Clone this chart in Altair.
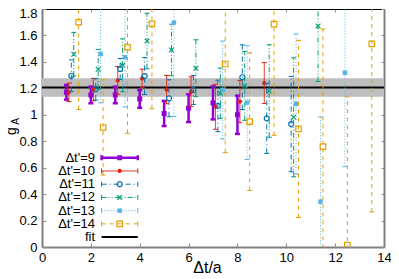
import altair as alt
import pandas as pd

# ---------------- data ----------------
dt_9 = [1, 2, 3, 4, 5, 6, 7, 8]
gA_9 = [1.17, 1.15, 1.15, 1.12, 1.01, 1.05, 1.09, 1.00]
err_9 = [0.055, 0.063, 0.063, 0.067, 0.095, 0.105, 0.125, 0.145]

dt_10 = [1, 2, 3, 4, 5, 6, 7, 8, 9]
gA_10 = [1.17, 1.19, 1.26, 1.275, 1.19, 1.175, 1.06, 1.10, 1.24]
err_10 = [0.07, 0.085, 0.105, 0.07, 0.107, 0.112, 0.17, 0.16, 0.155]

dt_11 = [1, 2, 3, 4, 5, 6, 7, 8, 9, 10]
gA_11 = [1.295, 1.193, 1.346, 1.293, 1.125, 1.188, 1.067, 1.284, 0.973, 0.93]
err_11 = [0.12, 0.082, 0.08, 0.14, 0.14, 0.11, 0.195, 0.245, 0.265, 0.36]

dt_12 = [1, 2, 3, 4, 5, 6, 7, 8, 9, 10, 11]
gA_12 = [1.458, 1.344, 1.374, 1.558, 1.49, 1.352, 1.163, 1.218, 1.18, 0.981, 1.672]
err_12 = [0.165, 0.15, 0.2, 0.21, 0.195, 0.215, 0.19, 0.26, 0.35, 0.45, 0.42]

dt_13 = [2, 3, 5, 7, 8, 10, 11, 12]
gA_13 = [1.46, 1.435, 1.697, 1.188, 1.092, 1.082, 0.343, 1.318]
err_13 = [0.37, 0.375, 0.71, 0.37, 0.43, 0.53, 0.64, 0.71]

dt_14 = [1, 2, 3, 4, 7, 8, 9, 10, 11, 12, 13]
gA_14 = [1.70, 0.904, 1.51, 1.687, 1.384, 0.948, 1.685, 0.893, 0.759, 0.015, 1.536]
err_14 = [0.66, 0.36, 0.65, 0.64, 0.67, 0.52, 0.84, 0.67, 0.89, 1.12, 1.27]

fit_value = 1.207
fit_err = 0.07
fit_range = [0, 14]

series_labels = ["Δt'=9", "Δt'=10", "Δt'=11", "Δt'=12", "Δt'=13", "Δt'=14"]
x_ticks = [0, 2, 4, 6, 8, 10, 12, 14]
y_ticks = [0, 0.2, 0.4, 0.6, 0.8, 1, 1.2, 1.4, 1.6, 1.8]

series_data = [
    (dt_9, gA_9, err_9),
    (dt_10, gA_10, err_10),
    (dt_11, gA_11, err_11),
    (dt_12, gA_12, err_12),
    (dt_13, gA_13, err_13),
    (dt_14, gA_14, err_14),
]

# ---------------- styles ----------------
FONT = "Liberation Sans"
W, H = 342, 238
styles = [
    dict(color="#9400d3", width=2.5, dash=[1, 0], shape="square", filled=True, size=25, off=0.0),
    dict(color="#e51e10", width=1, dash=[1, 0], shape="circle", filled=True, size=18, off=0.1),
    dict(color="#0072b2", width=1, dash=[5, 3, 1, 3], shape="circle", filled=False, size=25, off=0.2),
    dict(color="#009e73", width=1, dash=[5, 2, 1, 2, 1, 2], shape="M-1,-1L1,1M-1,1L1,-1", filled=False, size=22, off=0.3),
    dict(color="#56b4e9", width=1, dash=[1, 2], shape="square", filled=True, size=20, off=0.4),
    dict(color="#e69f00", width=1, dash=[4, 4], shape="square", filled=False, size=30, off=0.5),
]
HCAP = "M-1,0L1,0"
VCAP = "M0,-1L0,1"

xs = alt.Scale(domain=[0, 14], nice=False, zero=False)
ys = alt.Scale(domain=[0, 1.8], nice=False, zero=False)

main_x_axis = alt.Axis(orient="top", offset=-H, values=x_ticks, format="d", tickSize=4,
                       tickColor="#909090", domainColor="#808080", domainWidth=2,
                       labelBaseline="top", labelPadding=-8, labelFontSize=13, labelFont=FONT,
                       labelColor="black", labelFlush=False, labelOverlap=False, grid=False,
                       title="Δt/a", titleFont=FONT, titleFontSize=16, titleFontWeight="normal",
                       titleColor="black", titleX=165, titleY=25, titleBaseline="alphabetic",
                       titleAlign="center", titleAngle=0)
main_y_axis = alt.Axis(orient="right", offset=-W, values=y_ticks, format=".1~f", tickSize=4,
                       tickColor="#909090", domainColor="#808080", domainWidth=2,
                       labelAlign="right", labelBaseline="middle", labelPadding=-9, labelFontSize=13,
                       labelOffset={"condition": {"test": "datum.value > 1.79", "value": 4}, "value": 0},
                       labelFont=FONT, labelColor="black", labelFlush=False, labelOverlap=False,
                       grid=False, title=None)
mirror_x_axis = alt.Axis(orient="bottom", offset=-H, values=x_ticks, labels=False, tickSize=3,
                         tickColor="#909090", domainColor="black", domainWidth=1, grid=False, title=None)
mirror_y_axis = alt.Axis(orient="left", offset=-W, values=y_ticks, labels=False, tickSize=3,
                         tickColor="#909090", domainColor="#808080", domainWidth=2, grid=False, title=None)

layers = []

fit_df = pd.DataFrame({"x0": [fit_range[0]], "x1": [fit_range[1]], "g": [fit_value],
                       "lo": [fit_value - fit_err], "hi": [fit_value + fit_err]})
layers.append(alt.Chart(fit_df).mark_rect(color="#bebebe").encode(
    x=alt.X("x0:Q", scale=xs, axis=main_x_axis), x2="x1:Q",
    y=alt.Y("lo:Q", scale=ys, axis=main_y_axis), y2="hi:Q"))
layers.append(alt.Chart(fit_df).mark_rule(color="black", strokeWidth=2).encode(
    x=alt.X("x0:Q", scale=xs, axis=mirror_x_axis), x2="x1:Q",
    y=alt.Y("g:Q", scale=ys, axis=mirror_y_axis)))

for (dt, g, e), st in zip(series_data, styles):
    df = pd.DataFrame({"x": [d + st["off"] for d in dt], "g": g,
                       "lo": [a - b for a, b in zip(g, e)], "hi": [a + b for a, b in zip(g, e)]})
    caps = pd.concat([pd.DataFrame({"x": df["x"], "y": df["lo"]}),
                      pd.DataFrame({"x": df["x"], "y": df["hi"]})])
    layers.append(alt.Chart(df).mark_rule(color=st["color"], strokeWidth=st["width"],
                                          strokeDash=st["dash"], clip=True).encode(
        x=alt.X("x:Q", scale=xs, axis=None), y=alt.Y("lo:Q", scale=ys, axis=None), y2="hi:Q"))
    layers.append(alt.Chart(caps).mark_point(shape=HCAP, size=25, filled=False, color=st["color"],
                                             strokeWidth=st["width"], opacity=1, clip=True).encode(
        x=alt.X("x:Q", scale=xs, axis=None), y=alt.Y("y:Q", scale=ys, axis=None)))
    layers.append(alt.Chart(df).mark_point(shape=st["shape"], size=st["size"], filled=st["filled"],
                                           color=st["color"], strokeWidth=1.2, opacity=1, clip=True).encode(
        x=alt.X("x:Q", scale=xs, axis=None), y=alt.Y("g:Q", scale=ys, axis=None)))

# ---------------- key (drawn inside the plot, bottom left) ----------------
key_top, key_step = 0.675, 0.1
key_x0, key_x1, key_xm, key_xt = 2.44, 3.92, 3.18, 2.17
for i, (lab, st) in enumerate(zip(series_labels, styles)):
    ky = key_top - key_step * i
    kd = pd.DataFrame({"x0": [key_x0], "x1": [key_x1], "xm": [key_xm], "xt": [key_xt], "y": [ky], "t": [lab]})
    kc = pd.DataFrame({"x": [key_x0, key_x1], "y": [ky, ky]})
    layers.append(alt.Chart(kd).mark_rule(color=st["color"], strokeWidth=st["width"], strokeDash=st["dash"]).encode(
        x=alt.X("x0:Q", scale=xs, axis=None), x2="x1:Q", y=alt.Y("y:Q", scale=ys, axis=None)))
    layers.append(alt.Chart(kc).mark_point(shape=VCAP, size=25, filled=False, color=st["color"],
                                           strokeWidth=st["width"], opacity=1).encode(
        x=alt.X("x:Q", scale=xs, axis=None), y=alt.Y("y:Q", scale=ys, axis=None)))
    layers.append(alt.Chart(kd).mark_point(shape=st["shape"], size=st["size"], filled=st["filled"],
                                           color=st["color"], strokeWidth=1.2, opacity=1).encode(
        x=alt.X("xm:Q", scale=xs, axis=None), y=alt.Y("y:Q", scale=ys, axis=None)))
    layers.append(alt.Chart(kd).mark_text(align="right", baseline="middle", font=FONT, fontSize=13,
                                          color="black").encode(
        x=alt.X("xt:Q", scale=xs, axis=None), y=alt.Y("y:Q", scale=ys, axis=None), text="t:N"))

kf = pd.DataFrame({"x0": [key_x0], "x1": [key_x1], "xt": [key_xt], "y": [key_top - key_step * 6], "t": ["fit"]})
layers.append(alt.Chart(kf).mark_rule(color="black", strokeWidth=2).encode(
    x=alt.X("x0:Q", scale=xs, axis=None), x2="x1:Q", y=alt.Y("y:Q", scale=ys, axis=None)))
layers.append(alt.Chart(kf).mark_text(align="right", baseline="middle", font=FONT, fontSize=13,
                                      color="black").encode(
    x=alt.X("xt:Q", scale=xs, axis=None), y=alt.Y("y:Q", scale=ys, axis=None), text="t:N"))

# ---------------- y title g_A ----------------
layers.append(alt.Chart(pd.DataFrame({"t": ["g"]})).mark_text(
    angle=270, align="center", baseline="alphabetic", font=FONT, fontSize=14, color="black").encode(
    x=alt.value(-26), y=alt.value(122), text="t:N"))
layers.append(alt.Chart(pd.DataFrame({"t": ["A"]})).mark_text(
    angle=270, align="center", baseline="alphabetic", font=FONT, fontSize=10, color="black").encode(
    x=alt.value(-23), y=alt.value(112.5), text="t:N"))

chart = alt.layer(*layers).resolve_axis(x="independent", y="independent").properties(
    width=W, height=H,
    padding={"left": 34, "top": 1, "right": 7, "bottom": 30},
    autosize=alt.AutoSizeParams(type="none"),
).configure_view(stroke=None).configure(font=FONT)

chart.save("out.html", embed_options={"renderer": "svg", "actions": False})
